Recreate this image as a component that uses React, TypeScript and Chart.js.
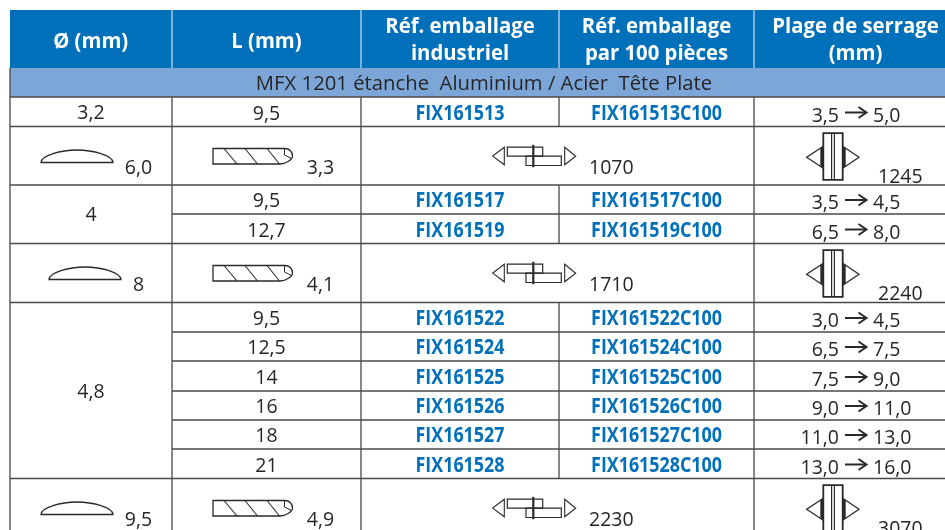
import React, { useEffect, useRef } from "react";
import { Chart, registerables } from "chart.js";

Chart.register(...registerables);

// ---- table content ----
const headers = [["Ø (mm)"], ["L (mm)"], ["Réf. emballage", "industriel"], ["Réf. emballage", "par 100 pièces"], ["Plage de serrage", "(mm)"]];
const bandTitle = "MFX 1201 étanche  Aluminium / Acier  Tête Plate";
const lengths = ["9,5", "9,5", "12,7", "9,5", "12,5", "14", "16", "18", "21"];
const refIndustrial = ["FIX161513", "FIX161517", "FIX161519", "FIX161522", "FIX161524", "FIX161525", "FIX161526", "FIX161527", "FIX161528"];
const ref100 = ["FIX161513C100", "FIX161517C100", "FIX161519C100", "FIX161522C100", "FIX161524C100", "FIX161525C100", "FIX161526C100", "FIX161527C100", "FIX161528C100"];
const rangeFrom = ["3,5", "3,5", "6,5", "3,0", "6,5", "7,5", "9,0", "11,0", "13,0"];
const rangeTo = ["5,0", "4,5", "8,0", "4,5", "7,5", "9,0", "11,0", "13,0", "16,0"];
const diameters = ["3,2", "4", "4,8"];
const headSizes = ["6,0", "8", "9,5"];
const drillSizes = ["3,3", "4,1", "4,9"];
const shearValues = ["1070", "1710", "2230"];
const tensileValues = ["1245", "2240", "3070"];

// ---- table layout, in the units of the two hidden scales (pixels of the source) ----
const colEdges = [10, 172, 361, 559, 754, 945];
const rowEdges = [97, 126.5, 185, 214, 243.5, 302.5, 332, 361, 391, 420, 449, 478.5, 530];
const headerTop = 10;
const headerBottom = 68;
const dataRows = [0, 2, 3, 5, 6, 7, 8, 9, 10];
const specRows = [1, 4, 11];
const diameterSpans = [[0, 0], [2, 3], [5, 10]];
const headIconX = [41, 49, 41];
const headLabelX = [138.5, 138.5, 138.5];

const TEXT = "#262626";
const GRID = "#4a4a4a";
const BLUE = "#0070BA";
const BAND = "#7DA6D8";
const HEADER_RULE = "#b9d6ec";

const seg = (x1: number, y1: number, x2: number, y2: number, color: string, width: number) => ({
  type: "scatter" as const,
  showLine: true,
  data: [{ x: x1, y: y1 }, { x: x2, y: y2 }],
  borderColor: color,
  borderWidth: width,
  pointRadius: 0,
  fill: false,
});

const area = (x1: number, x2: number, y1: number, y2: number, color: string) => ({
  type: "scatter" as const,
  showLine: true,
  data: [{ x: x1, y: y1 }, { x: x2, y: y1 }],
  borderWidth: 0,
  borderColor: color,
  backgroundColor: color,
  pointRadius: 0,
  fill: { value: y2 },
});

function buildDatasets() {
  const ds: any[] = [];
  ds.push(area(colEdges[0], colEdges[5], headerTop, headerBottom, BLUE));
  ds.push(area(colEdges[0], colEdges[5], headerBottom, rowEdges[0], BAND));
  colEdges.slice(1, 5).forEach((x) => ds.push(seg(x, headerTop, x, headerBottom, HEADER_RULE, 1.3)));
  // horizontal rules
  ds.push(seg(colEdges[0], rowEdges[0], colEdges[5], rowEdges[0], GRID, 1.3));
  rowEdges.slice(1, 12).forEach((y, i) => {
    const inner = i === 2 || (i >= 5 && i <= 9);
    ds.push(seg(inner ? colEdges[1] : colEdges[0], y, colEdges[5], y, GRID, 1.3));
  });
  // vertical rules
  [colEdges[0], colEdges[1], colEdges[2], colEdges[4]].forEach((x, i) =>
    ds.push(seg(x, i === 0 ? headerBottom : rowEdges[0], x, 530, GRID, 1.3)));
  dataRows.forEach((r) => ds.push(seg(colEdges[3], rowEdges[r], colEdges[3], rowEdges[r + 1], GRID, 1.3)));
  // Chart.js paints the first dataset last, so the fills must come at the end of the list
  return ds.reverse();
}

const tablePlugin = {
  id: "table",
  afterDatasetsDraw(chart: any) {
    const { ctx, scales } = chart;
    const X = (v: number) => scales.x.getPixelForValue(v);
    const Y = (v: number) => scales.y.getPixelForValue(v);
    const mid = (i: number) => (colEdges[i] + colEdges[i + 1]) / 2;

    const text = (s: string, x: number, y: number, font: string, color: string, align: CanvasTextAlign = "center", sx = 1) => {
      ctx.save();
      ctx.font = font;
      ctx.fillStyle = color;
      ctx.textAlign = align;
      ctx.textBaseline = "alphabetic";
      ctx.translate(X(x), Y(y));
      ctx.scale(sx, 1);
      ctx.fillText(s, 0, 0);
      ctx.restore();
    };
    const BODY = '19.5px "Open Sans"';
    const BANDFONT = '20.3px "Open Sans"';
    const HEAD = 'bold 20.5px "Open Sans"';
    const REF = 'bold 21px "Open Sans"';
    const HSX = 0.99, RSX = 0.85;

    const poly = (pts: number[][], close = false, w = 1.2, fill?: string) => {
      ctx.beginPath();
      pts.forEach(([a, b], i) => (i ? ctx.lineTo(X(a), Y(b)) : ctx.moveTo(X(a), Y(b))));
      if (close) ctx.closePath();
      if (fill) { ctx.fillStyle = fill; ctx.fill(); }
      else { ctx.lineWidth = w; ctx.strokeStyle = "#2a2a2a"; ctx.stroke(); }
    };

    // header
    headers.forEach((lines, c) => {
      const cx = c === 4 ? 855.5 : mid(c) - (c === 0 ? 0.3 : 0);
      if (lines.length === 1) text(lines[0], cx, 47.5, HEAD, "#ffffff", "center", HSX);
      else {
        text(lines[0], cx, 33, HEAD, "#ffffff", "center", HSX);
        text(lines[1], cx, 60, HEAD, "#ffffff", "center", HSX);
      }
    });
    text(bandTitle, 484, 90, BANDFONT, TEXT);

    // data rows
    dataRows.forEach((r, i) => {
      const bottom = rowEdges[r + 1];
      const base = bottom - 7;
      text(lengths[i], mid(1), base, BODY, TEXT);
      text(refIndustrial[i], mid(2), base, REF, BLUE, "center", RSX);
      text(ref100[i], mid(3), base, REF, BLUE, "center", RSX);
      text(rangeFrom[i], 839, bottom - 5, BODY, TEXT, "right");
      text(rangeTo[i], 873, bottom - 5, BODY, TEXT, "left");
      const ay = bottom - 14;
      ctx.lineCap = "butt";
      poly([[845, ay], [866, ay]], false, 2);
      poly([[858.5, ay - 5.5], [866.5, ay], [858.5, ay + 5.5]], false, 2);
    });
    diameterSpans.forEach(([a, b], i) => {
      const centre = (rowEdges[a] + rowEdges[b + 1]) / 2;
      text(diameters[i], mid(0), centre + 7, BODY, TEXT);
    });

    // specification rows
    specRows.forEach((r, i) => {
      const top = rowEdges[r];
      const base = top + 47;
      text(headSizes[i], headLabelX[i], base, BODY, TEXT);
      text(drillSizes[i], 320.5, base, BODY, TEXT);
      text(shearValues[i], 589, base, BODY, TEXT, "left");
      text(tensileValues[i], 878, top + 56, BODY, TEXT, "left");

      // rivet head
      const hx = headIconX[i];
      ctx.beginPath();
      ctx.moveTo(X(hx), Y(top + 36));
      ctx.lineTo(X(hx + 72), Y(top + 36));
      ctx.bezierCurveTo(X(hx + 72), Y(top + 29), X(hx + 52), Y(top + 23.5), X(hx + 36), Y(top + 23.5));
      ctx.bezierCurveTo(X(hx + 20), Y(top + 23.5), X(hx), Y(top + 29), X(hx), Y(top + 36));
      ctx.closePath();
      ctx.lineWidth = 1.3;
      ctx.strokeStyle = "#2a2a2a";
      ctx.stroke();

      // drill
      const t = top + 22, b = top + 37.5;
      ctx.beginPath();
      ctx.moveTo(X(285), Y(t));
      ctx.lineTo(X(213), Y(t));
      ctx.lineTo(X(213), Y(b));
      ctx.lineTo(X(280), Y(b));
      ctx.bezierCurveTo(X(286), Y(b), X(292.5), Y(t + 11), X(292.5), Y(t + 7.5));
      ctx.bezierCurveTo(X(292.5), Y(t + 3), X(289), Y(t), X(285), Y(t));
      ctx.lineWidth = 1.3;
      ctx.strokeStyle = "#2a2a2a";
      ctx.stroke();
      [[224, 237], [245, 257.5], [267, 279.5]].forEach(([p, q]) => poly([[p, t], [q, b]], false, 1.1));
      poly([[284.5, t], [284.5, t + 6.5], [291.5, t + 10]], false, 1);

      // rivet cross-section
      const o = top + 20.7;
      poly([[504.3, o], [492.7, o + 8.9], [504.3, o + 17.6]], true, 1.1);
      poly([[507.3, o], [542.7, o], [542.7, o + 9], [507.3, o + 9]], true, 1.2);
      poly([[526, o + 9], [561.3, o + 9], [561.3, o + 18.3], [526, o + 18.3]], true, 1.2);
      poly([[533.3, o - 2.4], [533.3, o + 20]], false, 2.2);
      poly([[564.7, o], [575.7, o + 9], [564.7, o + 17.6]], true, 1.1);

      // clamp
      const c = top + 6.7;
      const cy = c + 24;
      poly([[823.3, c], [842.7, c], [842.7, c + 46.6], [823.3, c + 46.6]], true, 1.8);
      poly([[831.6, c], [831.6, c + 46.6]], false, 1.2);
      poly([[834.4, c], [834.4, c + 46.6]], false, 1.2);
      poly([[823.3, cy - 11], [806.7, cy], [823.3, cy + 11]], false, 1.3);
      poly([[842.7, cy - 11], [859, cy], [842.7, cy + 11]], false, 1.3);
      poly([[823.3, cy - 11], [820.3, cy - 9], [820.3, cy + 9], [823.3, cy + 11]], true, 1, "#2a2a2a");
      poly([[842.7, cy - 11], [845.7, cy - 9], [845.7, cy + 9], [842.7, cy + 11]], true, 1, "#2a2a2a");
    });
  },
};

export default function App() {
  const ref = useRef<HTMLCanvasElement>(null);
  useEffect(() => {
    document.body.style.margin = "0";
    const chart = new Chart(ref.current as HTMLCanvasElement, {
      type: "scatter",
      data: { datasets: buildDatasets() },
      options: {
        animation: false,
        responsive: false,
        events: [],
        layout: { padding: 0 },
        plugins: { legend: { display: false }, tooltip: { enabled: false }, title: { display: false } },
        scales: {
          x: { type: "linear", min: 0, max: 945, display: false },
          y: { type: "linear", min: 0, max: 530, reverse: true, display: false },
        },
      },
      plugins: [tablePlugin],
    } as any);
    return () => chart.destroy();
  }, []);
  return (
    <div style={{ width: 945, height: 530, background: "#fff", overflow: "hidden" }}>
      <canvas ref={ref} width={945} height={530} style={{ display: "block" }} />
    </div>
  );
}
